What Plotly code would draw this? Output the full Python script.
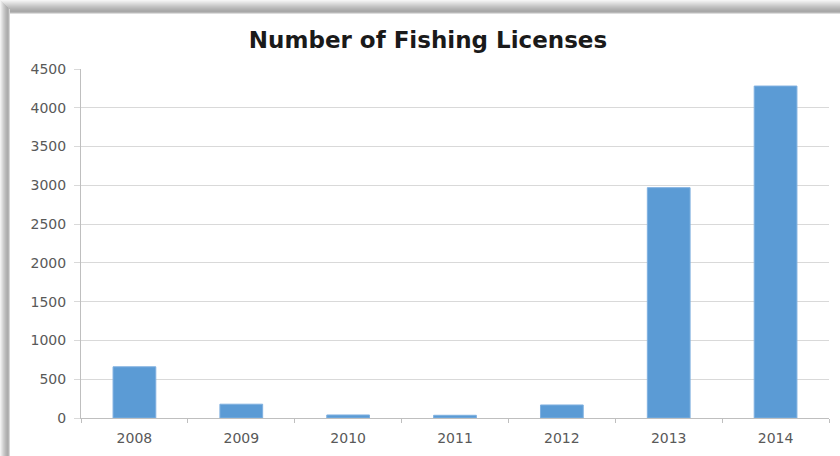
import plotly.graph_objects as go

years = ["2008", "2009", "2010", "2011", "2012", "2013", "2014"]
licenses = [660, 178, 39, 35, 168, 2970, 4280]
y_ticks = [0, 500, 1000, 1500, 2000, 2500, 3000, 3500, 4000, 4500]

fig = go.Figure()
fig.add_trace(go.Bar(
    x=years, y=licenses,
    marker=dict(color="#5b9bd5", line=dict(color="#7fb0e0", width=1)),
    width=0.4,
))

shapes = []
# top shadow band (gradient approximation)
top_cols = ["#f4f4f4", "#ececec", "#e4e4e4", "#dcdcdc", "#d4d4d4", "#cccccc", "#c4c4c4",
            "#bdbdbd", "#b6b6b6", "#b0b0b0", "#aaaaaa", "#a8a8a8", "#b8b8b8", "#dddddd"]
for i, c in enumerate(top_cols):
    shapes.append(dict(type="rect", xref="paper", yref="paper", xsizemode="pixel", ysizemode="pixel",
                       xanchor=0, yanchor=1, x0=-81, x1=760, y0=69 - i, y1=69 - i - 1,
                       fillcolor=c, line=dict(width=0), layer="below"))
left_cols = ["#f2f2f2", "#e6e6e6", "#dadada", "#cecece", "#c4c4c4", "#bababa", "#b2b2b2",
             "#acacac", "#b4b4b4", "#d6d6d6"]
for i, c in enumerate(left_cols):
    shapes.append(dict(type="rect", xref="paper", yref="paper", xsizemode="pixel", ysizemode="pixel",
                       xanchor=0, yanchor=1, x0=-81 + i, x1=-81 + i + 1, y0=69 - i, y1=-400,
                       fillcolor=c, line=dict(width=0), layer="below"))

fig.update_layout(
    width=840, height=456,
    margin=dict(l=81, r=11, t=69, b=38),
    paper_bgcolor="white", plot_bgcolor="white",
    showlegend=False,
    bargap=0.6,
    title=dict(text="<b>Number of Fishing Licenses</b>", x=428 / 840, xanchor="center",
               y=1 - 40 / 456, yanchor="middle",
               font=dict(family="DejaVu Sans", size=23, color="#1a1a1a")),
    font=dict(family="DejaVu Sans", size=14, color="#595959"),
    shapes=shapes,
    xaxis=dict(type="category", showgrid=False, showline=True, linecolor="#bfbfbf", linewidth=1,
               ticks="outside", tickson="boundaries", ticklen=4, tickcolor="#bfbfbf",
               ticklabelstandoff=7,
               tickfont=dict(size=14, color="#595959")),
    yaxis=dict(range=[0, 4500], tickvals=y_ticks, showgrid=True, gridcolor="#d9d9d9", gridwidth=1,
               showline=True, linecolor="#bfbfbf", linewidth=1, zeroline=False,
               ticks="outside", ticklen=6, tickcolor="#d9d9d9", ticklabelstandoff=5,
               tickfont=dict(size=14, color="#595959")),
)

fig.write_html("out.html", config={"displayModeBar": False},
               post_script="document.body.style.margin='0';document.body.style.overflow='hidden';")
